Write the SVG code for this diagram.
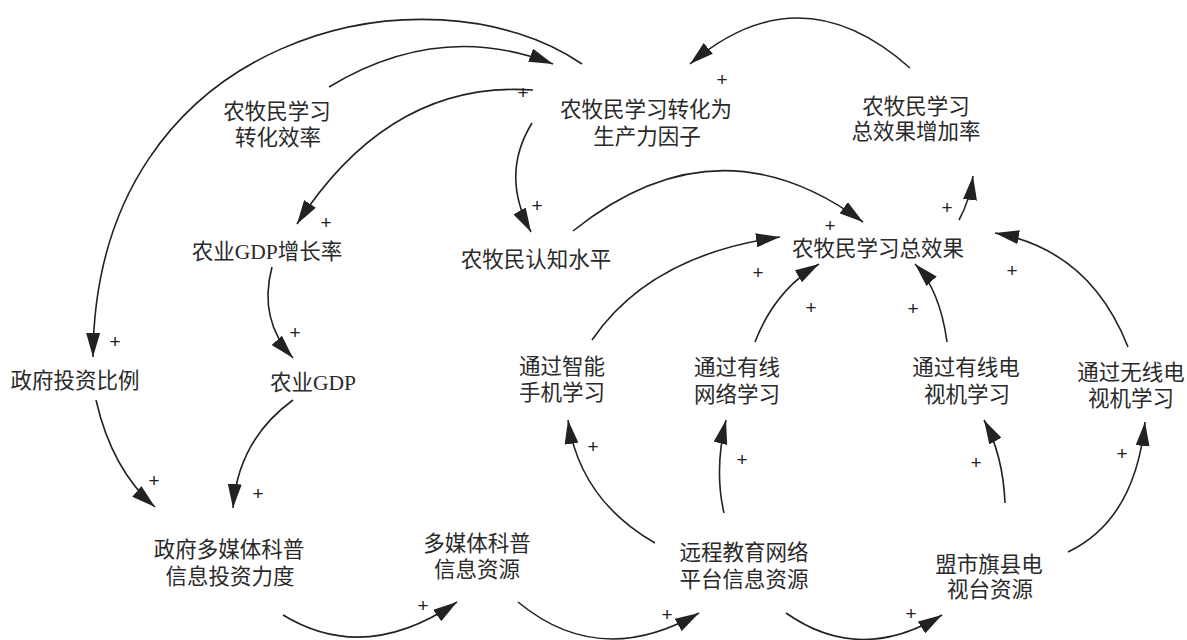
<svg xmlns="http://www.w3.org/2000/svg" width="1187" height="640" viewBox="0 0 1187 640">
<style>
.n{font-family:"Liberation Serif","Noto Sans CJK SC",serif;font-size:21.5px;fill:#2a2a2a;text-anchor:middle}
.p{font-family:"Liberation Sans",sans-serif;font-size:19px;fill:#222;text-anchor:middle;dominant-baseline:central}
.c{fill:none;stroke:#222;stroke-width:1.6;marker-end:url(#ah)}
</style>
<defs>
<marker id="ah" viewBox="0 0 24 14" refX="24" refY="7" markerWidth="24" markerHeight="14" markerUnits="userSpaceOnUse" orient="auto">
<path d="M0,0 L24,7 L0,14 z" fill="#222"/>
</marker>
</defs>
<rect width="1187" height="640" fill="#fff"/>
<g id="connectors">
<path class="c" d="M582,64 C430,-40 95,30 93,357"/>
<path class="c" d="M329,87 Q440,20 553,64"/>
<path class="c" d="M533,90 Q390,80 297,224"/>
<path class="c" d="M532,123 Q500,175 531,232"/>
<path class="c" d="M573,231 Q718,115 863,222"/>
<path class="c" d="M910,68 Q800,-30 690,64"/>
<path class="c" d="M959,220 Q970,200 973,176"/>
<path class="c" d="M272,267 Q258,320 293,358"/>
<path class="c" d="M96,400 Q112,470 155,507"/>
<path class="c" d="M293,400 Q238,440 233,508"/>
<path class="c" d="M283,615 Q365,665 457,602"/>
<path class="c" d="M518,602 Q600,670 699,613"/>
<path class="c" d="M786,613 Q860,665 942,615"/>
<path class="c" d="M655,543 Q580,500 568,420"/>
<path class="c" d="M724,513 Q714,470 726,420"/>
<path class="c" d="M1005,503 Q1003,455 984,420"/>
<path class="c" d="M1068,552 Q1135,520 1145,422"/>
<path class="c" d="M592,340 Q650,255 780,237"/>
<path class="c" d="M755,342 Q775,290 819,264"/>
<path class="c" d="M947,342 Q940,290 915,264"/>
<path class="c" d="M1128,347 Q1090,250 995,233"/>
</g>
<g id="polarity">
<text class="p" x="115" y="341">+</text>
<text class="p" x="523" y="92">+</text>
<text class="p" x="326" y="222">+</text>
<text class="p" x="537" y="205">+</text>
<text class="p" x="830" y="225">+</text>
<text class="p" x="722" y="79">+</text>
<text class="p" x="947" y="207">+</text>
<text class="p" x="295" y="332">+</text>
<text class="p" x="154" y="480">+</text>
<text class="p" x="258" y="493">+</text>
<text class="p" x="423" y="605">+</text>
<text class="p" x="667" y="614">+</text>
<text class="p" x="911" y="613">+</text>
<text class="p" x="593" y="446">+</text>
<text class="p" x="742" y="459">+</text>
<text class="p" x="976" y="462">+</text>
<text class="p" x="1122" y="453">+</text>
<text class="p" x="758" y="272">+</text>
<text class="p" x="811" y="307">+</text>
<text class="p" x="913" y="308">+</text>
<text class="p" x="1012" y="270">+</text>
</g>
<g id="n_zhxl"><text class="n" x="277" y="119">农牧民学习</text><text class="n" x="278" y="145">转化效率</text></g>
<g id="n_scl"><text class="n" x="646" y="117">农牧民学习转化为</text><text class="n" x="647" y="144">生产力因子</text></g>
<g id="n_zjl"><text class="n" x="916" y="114">农牧民学习</text><text class="n" x="916" y="139">总效果增加率</text></g>
<g id="n_gdpr"><text class="n" x="267" y="259">农业GDP增长率</text></g>
<g id="n_rz"><text class="n" x="536" y="267">农牧民认知水平</text></g>
<g id="n_zxg"><text class="n" x="878" y="256">农牧民学习总效果</text></g>
<g id="n_tzbl"><text class="n" x="75" y="388">政府投资比例</text></g>
<g id="n_gdp"><text class="n" x="313" y="390">农业GDP</text></g>
<g id="n_sj"><text class="n" x="562" y="374">通过智能</text><text class="n" x="562" y="400">手机学习</text></g>
<g id="n_yxwl"><text class="n" x="737" y="375">通过有线</text><text class="n" x="737" y="402">网络学习</text></g>
<g id="n_yxds"><text class="n" x="966" y="375">通过有线电</text><text class="n" x="967" y="402">视机学习</text></g>
<g id="n_wxds"><text class="n" x="1131" y="380">通过无线电</text><text class="n" x="1131" y="406">视机学习</text></g>
<g id="n_tzld"><text class="n" x="229" y="557">政府多媒体科普</text><text class="n" x="230" y="584">信息投资力度</text></g>
<g id="n_dmt"><text class="n" x="477" y="551">多媒体科普</text><text class="n" x="477" y="577">信息资源</text></g>
<g id="n_ycjy"><text class="n" x="744" y="560">远程教育网络</text><text class="n" x="744" y="587">平台信息资源</text></g>
<g id="n_mstv"><text class="n" x="989" y="572">盟市旗县电</text><text class="n" x="990" y="597">视台资源</text></g>
</svg>
